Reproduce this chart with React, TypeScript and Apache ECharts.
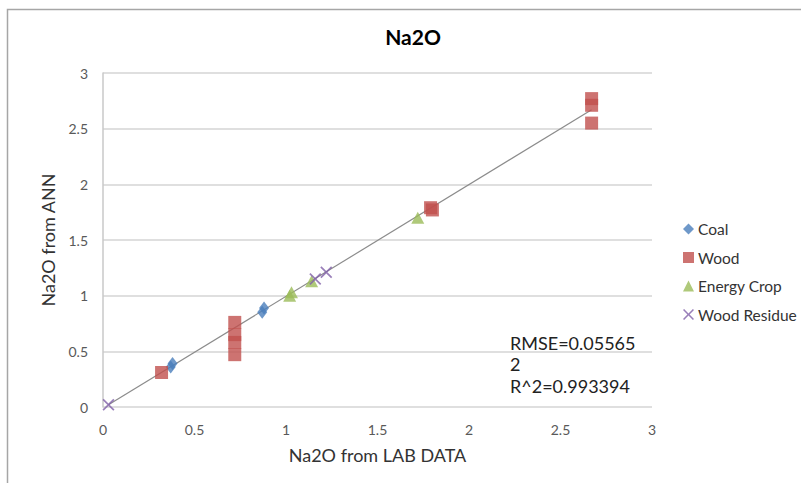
import React, { useEffect, useRef } from "react";
import * as echarts from "echarts";

const coal: number[][] = [
  [0.37, 0.36],
  [0.38, 0.39],
  [0.87, 0.85],
  [0.88, 0.89],
];
const wood: number[][] = [
  [0.32, 0.31],
  [0.72, 0.76],
  [0.72, 0.65],
  [0.72, 0.58],
  [0.72, 0.47],
  [1.79, 1.79],
  [1.8, 1.77],
  [2.67, 2.77],
  [2.67, 2.71],
  [2.67, 2.55],
];
const energyCrop: number[][] = [
  [1.02, 1.0],
  [1.03, 1.03],
  [1.14, 1.13],
  [1.72, 1.7],
];
const woodResidue: number[][] = [
  [0.03, 0.02],
  [1.16, 1.15],
  [1.22, 1.21],
];
const trendLine: number[][] = [
  [0.03, 0.02],
  [2.67, 2.67],
];
const statsText = ["RMSE=0.05565", "2", "R^2=0.993394"];

const crossPath =
  "path://M0,1 L1,0 L5,4 L9,0 L10,1 L6,5 L10,9 L9,10 L5,6 L1,10 L0,9 L4,5 Z";

const FONT = "Lato, 'Open Sans', 'Liberation Sans', sans-serif";

export default function App() {
  const ref = useRef<HTMLDivElement>(null);
  useEffect(() => {
    if (!ref.current) return;
    const chart = echarts.init(ref.current, undefined, { renderer: "svg" });
    chart.setOption({
      animation: false,
      backgroundColor: "#ffffff",
      title: {
        text: "Na2O",
        left: 408,
        top: 21,
        textAlign: "center",
        textStyle: { fontFamily: FONT, fontSize: 21, fontWeight: "bold", color: "#000" },
      },
      grid: { left: 103, right: 149, top: 73, bottom: 76 },
      xAxis: {
        type: "value",
        min: 0,
        max: 3,
        interval: 0.5,
        name: "Na2O from LAB DATA",
        nameLocation: "middle",
        nameGap: 39,
        nameTextStyle: { fontFamily: FONT, fontSize: 18, color: "#333" },
        axisLine: { show: false },
        axisTick: { show: false },
        splitLine: { show: false },
        axisLabel: { fontFamily: FONT, fontSize: 14, color: "#595959", margin: 15 },
      },
      yAxis: {
        type: "value",
        min: 0,
        max: 3,
        interval: 0.5,
        name: "Na2O from ANN",
        nameLocation: "middle",
        nameGap: 46,
        nameTextStyle: { fontFamily: FONT, fontSize: 18, color: "#333" },
        axisLine: { show: true, lineStyle: { color: "#c8c8c8", width: 1.5 } },
        axisTick: { show: false },
        splitLine: { show: true, lineStyle: { color: "#d4d4d4", width: 1.5 } },
        axisLabel: { fontFamily: FONT, fontSize: 14, color: "#595959", margin: 15 },
      },
      legend: {
        orient: "vertical",
        left: 678,
        top: 216,
        itemGap: 12.5,
        itemWidth: 11,
        itemHeight: 11,
        textStyle: { fontFamily: FONT, fontSize: 15.5, color: "#333", padding: [0, 0, 0, -1] },
        data: ["Coal", "Wood", "Energy Crop", "Wood Residue"],
      },
      graphic: [
        {
          type: "rect",
          shape: { x: 7.5, y: 9.5, width: 820, height: 490 },
          style: { fill: "none", stroke: "#a6a6a6", lineWidth: 1.5 },
          silent: true,
        },
        {
          type: "text",
          left: 510,
          top: 332,
          style: {
            text: statsText.join("\n"),
            fontFamily: FONT,
            fontSize: 18,
            lineHeight: 21.5,
            fill: "#222",
          },
        },
      ],
      series: [
        {
          name: "Trend",
          type: "line",
          data: trendLine,
          symbol: "none",
          lineStyle: { color: "#8c8c8c", width: 1.2 },
          silent: true,
          z: 1,
        },
        {
          name: "Coal",
          type: "scatter",
          data: coal,
          symbol: "diamond",
          symbolSize: [10, 13],
          itemStyle: { color: "#4a7ebb" },
          z: 3,
        },
        {
          name: "Wood",
          type: "scatter",
          data: wood,
          symbol: "rect",
          symbolSize: 13,
          itemStyle: { color: "#c0504d" },
          z: 3,
        },
        {
          name: "Energy Crop",
          type: "scatter",
          data: energyCrop,
          symbol: "triangle",
          symbolSize: [13, 12],
          itemStyle: { color: "#9bbb59" },
          z: 3,
        },
        {
          name: "Wood Residue",
          type: "scatter",
          data: woodResidue,
          symbol: crossPath,
          symbolSize: 12,
          itemStyle: { color: "#7f5fa8" },
          z: 4,
        },
      ],
    });
    return () => chart.dispose();
  }, []);
  return <div ref={ref} style={{ width: 801, height: 483, position: "absolute", left: 0, top: 0 }} />;
}
